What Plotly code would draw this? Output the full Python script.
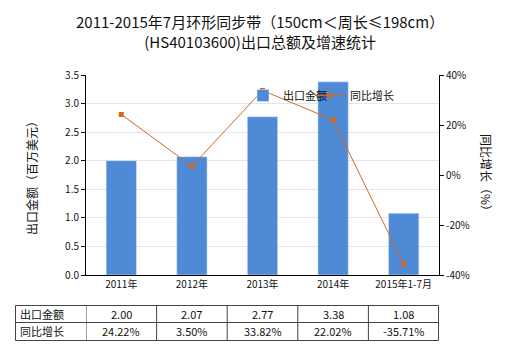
import plotly.graph_objects as go

categories = ["2011年", "2012年", "2013年", "2014年", "2015年1-7月"]
export_values = [2.00, 2.07, 2.77, 3.38, 1.08]
growth_values = [24.22, 3.50, 33.82, 22.02, -35.71]
export_labels = ["2.00", "2.07", "2.77", "3.38", "1.08"]
growth_labels = ["24.22%", "3.50%", "33.82%", "22.02%", "-35.71%"]
left_ticks = [0.0, 0.5, 1.0, 1.5, 2.0, 2.5, 3.0, 3.5]
right_ticks = [-40, -20, 0, 20, 40]
right_tick_text = ["-40%", "-20%", "0%", "20%", "40%"]

FONT = "Noto Sans CJK SC, Microsoft YaHei, sans-serif"
BAR = "#4f8ad6"
LINE = "#d2691e"

fig = go.Figure()
fig.add_trace(go.Bar(x=list(range(len(categories))), y=export_values, name="出口金额",
                     marker_color=BAR, width=0.43, yaxis="y", legend="legend"))
fig.add_trace(go.Scatter(x=list(range(len(categories))), y=growth_values, name="同比增长",
                         mode="lines+markers", line=dict(color=LINE, width=1),
                         marker=dict(symbol="square", size=5, color=LINE), yaxis="y2",
                         legend="legend2"))

L, R, T, B = 86, 439, 75, 275
W, H = R - L, B - T

def px(x):
    return (x - L) / W

def py(y):
    return (B - y) / H

shapes = []
line_style = dict(color="#444", width=1)
shapes.append(dict(type="rect", xref="paper", yref="paper", x0=px(15.5), x1=px(438.5),
                   y0=py(305.5), y1=py(340.5), line=line_style))
shapes.append(dict(type="line", xref="paper", yref="paper", x0=px(15.5), x1=px(438.5),
                   y0=py(322.5), y1=py(322.5), line=line_style))
for i in range(len(categories)):
    shapes.append(dict(type="line", xref="x", yref="paper", x0=i - 0.5, x1=i - 0.5,
                       y0=py(305.5), y1=py(340.5), line=line_style))

def ann(text, x, y, xref="paper", xanchor="center", size=11, **kw):
    return dict(text=text, xref=xref, yref="paper", x=x, y=y, xanchor=xanchor,
                yanchor="middle", showarrow=False,
                font=dict(size=size, color="#111", family=FONT), **kw)

annotations = []
annotations.append(ann("2011-2015年7月环形同步带（150cm＜周长≤198cm）<br>(HS40103600)出口总额及增速统计",
                       px(260), py(31), size=15, align="center"))
annotations.append(ann("出口金额", px(18), py(314), xanchor="left"))
annotations.append(ann("同比增长", px(18), py(331), xanchor="left"))
for i in range(len(categories)):
    annotations.append(ann(export_labels[i], i, py(314), xref="x"))
    annotations.append(ann(growth_labels[i], i, py(331), xref="x"))
annotations.append(ann("同比增长（%）", px(487), py(175), size=12, textangle=90))

legend_common = dict(orientation="h", yanchor="top", xanchor="left", y=py(81),
                     bgcolor="rgba(0,0,0,0)", font=dict(size=11, family=FONT))

fig.update_layout(
    width=520, height=350,
    margin=dict(l=L, r=520 - R, t=T, b=350 - B),
    paper_bgcolor="white", plot_bgcolor="white",
    font=dict(family=FONT, size=10, color="#111"),
    showlegend=True,
    legend=dict(x=px(243), **legend_common),
    legend2=dict(x=px(310), **legend_common),
    xaxis=dict(range=[-0.5, len(categories) - 0.5], tickmode="array",
               tickvals=list(range(len(categories))), ticktext=categories,
               showline=True, linecolor="#000", linewidth=1, showgrid=False,
               ticks="", tickfont=dict(size=10, family=FONT), zeroline=False),
    yaxis=dict(range=[0, 3.5], tickmode="array", tickvals=left_ticks,
               ticktext=[f"{v:.1f}" for v in left_ticks],
               showline=True, linecolor="#000", linewidth=1, ticks="outside", ticklen=4,
               tickcolor="#000", showgrid=True, gridcolor="#e3e7ea", zeroline=False,
               title=dict(text="出口金额（百万美元）", font=dict(size=12, family=FONT), standoff=24),
               tickfont=dict(size=10)),
    yaxis2=dict(range=[-40, 40], tickmode="array", tickvals=right_ticks, ticktext=right_tick_text,
                overlaying="y", side="right",
                showline=True, linecolor="#000", linewidth=1, ticks="outside", ticklen=4,
                tickcolor="#000", showgrid=False, zeroline=False,
                tickfont=dict(size=10)),
    shapes=shapes, annotations=annotations,
)

fig.write_html("out.html")
